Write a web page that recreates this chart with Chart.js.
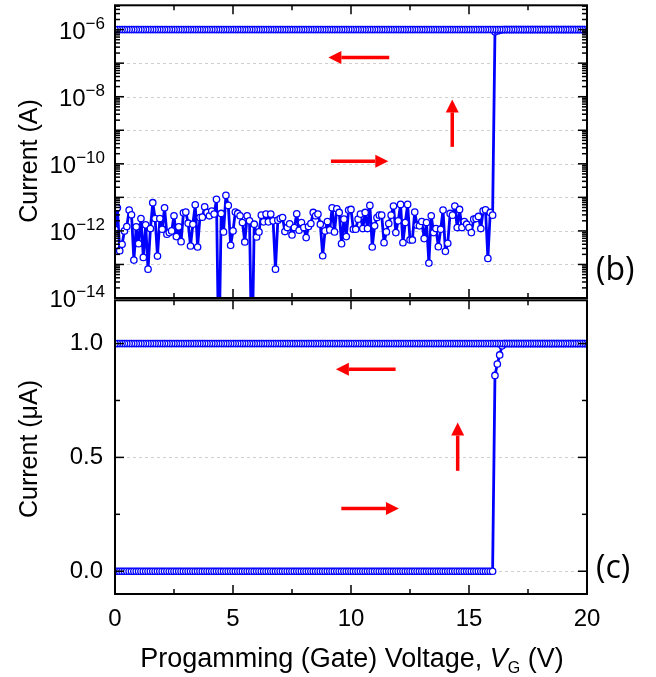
<!DOCTYPE html>
<html lang="en">
<head>
<meta charset="UTF-8">
<title>Programming sweep</title>
<script src="https://cdn.jsdelivr.net/npm/chart.js"></script>
<style>
  body { margin: 0; background: #fff; }
  .janela { position: relative; width: 656px; height: 677px; }
  #graficoLog { position: absolute; left: 0; top: 0; }
  #graficoLin { position: absolute; left: 0; top: 295px; }
</style>
</head>
<body>
<div class="janela">
  <canvas id="graficoLog" width="656" height="320"></canvas>
  <canvas id="graficoLin" width="656" height="382"></canvas>
</div>
<script>
// varredura de tensao (V)
const passo = 0.1;
const vFinal = 20;

// log10 da corrente (A) na ida, de 0.0 a 16.0 V
// -16 = ponto que cai abaixo da escala (4.4 V e 5.8 V)
const expoentesIda = [
  -11.95, -11.31, -12.59, -12.40, -12.00, -11.87, -11.38, -11.52, -12.87, -11.88,
  -12.38, -11.63, -12.79, -11.82, -13.14, -11.93, -11.16, -11.63, -12.75, -11.63,
  -11.95, -11.31, -12.10, -12.05, -12.00, -11.55, -12.17, -11.88, -12.32, -11.46,
  -11.44, -11.77, -12.45, -11.80, -11.22, -12.48, -11.60, -11.59, -11.28, -11.45,
  -11.55, -11.41, -11.50, -11.06, -16.00, -11.48, -12.03, -10.94, -11.24, -12.43,
  -12.00, -11.44, -11.48, -11.55, -11.75, -12.33, -11.55, -11.70, -16.00, -11.80,
  -12.18, -12.03, -11.53, -11.73, -11.50, -11.73, -11.50, -11.70, -13.14, -11.68,
  -11.63, -11.60, -12.02, -11.90, -11.79, -12.12, -11.90, -11.49, -11.98, -11.75,
  -11.90, -12.20, -11.87, -11.78, -11.45, -11.55, -11.50, -11.80, -12.74, -12.00,
  -11.72, -11.97, -11.31, -12.03, -11.34, -11.45, -12.38, -11.65, -12.17, -11.38,
  -11.36, -11.95, -11.95, -11.65, -11.50, -11.93, -11.45, -11.93, -11.24, -12.48,
  -11.85, -11.60, -11.53, -11.53, -12.35, -12.03, -11.78, -11.53, -11.26, -12.05,
  -11.70, -11.21, -12.35, -11.75, -11.21, -12.27, -12.27, -11.44, -11.83, -11.85,
  -11.72, -12.23, -11.75, -12.96, -11.55, -12.05, -11.93, -12.47, -11.95, -11.38,
  -12.61, -12.37, -11.48, -11.53, -11.26, -11.90, -11.36, -11.90, -11.72, -11.80,
  -11.90, -12.05, -11.65, -11.63, -11.57, -11.93, -11.40, -11.37, -12.82, -11.45,
  -11.53
];

// subida para o estado ligado
const voltsTransicao = [16.1, 16.2, 16.3, 16.4];
const correnteTransicao = [0.86e-6, 0.91e-6, 0.95e-6, 0.99e-6];

// corrente de compliance (A): resto da ida e toda a volta 20 -> 0 V
const correnteOn = 1.0e-6;

// eixos
const ticksX = [0, 5, 10, 15, 20];
const ticksXMenor = [2.5, 7.5, 12.5, 17.5];
const decadas = [-14, -13, -12, -11, -10, -9, -8, -7, -6];
const ticksLin = [0, 0.5, 1.0];
const ticksLinMenor = [0.25, 0.75];

// setas [x1, y1, x2, y2] em unidades dos eixos, ponta em (x2, y2)
const setasLog = [[11.62, 1.48e-7, 9.04, 1.48e-7], [9.15, 1.2e-10, 11.58, 1.2e-10], [14.29, 3.2e-10, 14.29, 8.3e-9]];
const setasLin = [[11.89, 0.887, 9.36, 0.887], [9.59, 0.276, 12.03, 0.276], [14.52, 0.441, 14.52, 0.653]];

// montando os pontos
const pontos = [];
expoentesIda.forEach(function (e, i) {
  pontos.push({ x: +(i * passo).toFixed(1), y: Math.pow(10, e) });
});
voltsTransicao.forEach(function (v, i) {
  pontos.push({ x: v, y: correnteTransicao[i] });
});
const nInicio = Math.round(voltsTransicao[voltsTransicao.length - 1] / passo) + 1;
const nFim = Math.round(vFinal / passo);
for (let n = nInicio; n <= nFim; n++) pontos.push({ x: +(n * passo).toFixed(1), y: correnteOn });
for (let n = nFim; n >= 0; n--) pontos.push({ x: +(n * passo).toFixed(1), y: correnteOn });
const pontosUA = pontos.map(function (p) { return { x: p.x, y: p.y * 1e6 }; });

const fonte = '"Liberation Sans", Arial, sans-serif';
Chart.defaults.font.family = fonte;
Chart.defaults.color = '#000';

function serie(dados) {
  return {
    data: dados,
    borderColor: '#0000ff',
    borderWidth: 2.8,
    borderJoinStyle: 'round',
    pointRadius: 3.2,
    pointBorderWidth: 1.3,
    pointBackgroundColor: '#ffffff',
    pointBorderColor: '#0000ff',
    tension: 0
  };
}

function traco(ctx, x1, y1, x2, y2) {
  ctx.beginPath(); ctx.moveTo(x1, y1); ctx.lineTo(x2, y2); ctx.stroke();
}

function seta(ctx, x1, y1, x2, y2) {
  const ang = Math.atan2(y2 - y1, x2 - x1);
  const cab = 13, larg = 6.5;
  const bx = x2 - cab * Math.cos(ang), by = y2 - cab * Math.sin(ang);
  ctx.strokeStyle = '#ff0000'; ctx.fillStyle = '#ff0000'; ctx.lineWidth = 3.5;
  traco(ctx, x1, y1, bx, by);
  ctx.beginPath();
  ctx.moveTo(x2, y2);
  ctx.lineTo(bx + larg * Math.sin(ang), by - larg * Math.cos(ang));
  ctx.lineTo(bx - larg * Math.sin(ang), by + larg * Math.cos(ang));
  ctx.closePath(); ctx.fill();
}

const moldura = {
  id: 'moldura',
  beforeDatasetsDraw(chart, args, o) {
    const { ctx, chartArea: a, scales } = chart;
    ctx.save();
    ctx.strokeStyle = '#cfcfcf'; ctx.lineWidth = 1; ctx.setLineDash([3, 3]);
    o.grade.forEach(function (v) {
      const py = Math.round(scales.y.getPixelForValue(v)) + 0.5;
      traco(ctx, a.left, py, a.right, py);
    });
    ctx.restore();
  },
  afterDraw(chart, args, o) {
    const { ctx, chartArea: a, scales } = chart;
    const sx = scales.x, sy = scales.y;
    ctx.save();
    ctx.strokeStyle = '#000'; ctx.lineWidth = 1.5;
    ticksX.forEach(function (v) {
      const px = sx.getPixelForValue(v);
      traco(ctx, px, a.bottom, px, a.bottom - 9); traco(ctx, px, a.top, px, a.top + 9);
    });
    ticksXMenor.forEach(function (v) {
      const px = sx.getPixelForValue(v);
      traco(ctx, px, a.bottom, px, a.bottom - 5); traco(ctx, px, a.top, px, a.top + 5);
    });
    o.yMaior.forEach(function (v) {
      const py = sy.getPixelForValue(v);
      traco(ctx, a.left, py, a.left + 9, py); traco(ctx, a.right, py, a.right - 9, py);
    });
    o.yMenor.forEach(function (v) {
      const py = sy.getPixelForValue(v);
      if (py < a.top || py > a.bottom) return;
      traco(ctx, a.left, py, a.left + 5, py); traco(ctx, a.right, py, a.right - 5, py);
    });
    ctx.lineWidth = 2;
    ctx.strokeRect(a.left, a.top, a.width, a.height);

    // setas
    o.setas.forEach(function (s) {
      seta(ctx, sx.getPixelForValue(s[0]), sy.getPixelForValue(s[1]), sx.getPixelForValue(s[2]), sy.getPixelForValue(s[3]));
    });

    ctx.fillStyle = '#000';
    // rotulos 10^n
    if (o.rotuloLog) {
      decadas.forEach(function (d) {
        if (d % 2 !== 0) return;
        const py = sy.getPixelForValue(Math.pow(10, d));
        const exp = '\u2212' + Math.abs(d);
        ctx.textAlign = 'right'; ctx.textBaseline = 'alphabetic';
        ctx.font = '17px ' + fonte;
        ctx.fillText(exp, 105, py - 1);
        const w = ctx.measureText(exp).width;
        ctx.font = '24px ' + fonte;
        ctx.fillText('10', 105 - w, py + 9);
      });
    }

    // titulo do eixo y
    ctx.save();
    ctx.translate(30, o.tituloY);
    ctx.rotate(-Math.PI / 2);
    ctx.font = '25px ' + fonte;
    ctx.textAlign = 'center'; ctx.textBaseline = 'middle';
    ctx.fillText(o.titulo, 0, 0);
    ctx.restore();

    // letra do painel
    ctx.font = '32px "Open Sans", sans-serif';
    ctx.textAlign = 'left'; ctx.textBaseline = 'middle';
    ctx.fillText(o.painel, 596, o.painelY);

    // titulo do eixo x
    if (o.tituloX) {
      const partes = [
        { t: 'Progamming (Gate) Voltage, ', f: '27px ' + fonte, dy: 0 },
        { t: 'V', f: 'italic 27px ' + fonte, dy: 0 },
        { t: 'G', f: '16px ' + fonte, dy: 6 },
        { t: ' (V)', f: '27px ' + fonte, dy: 0 }
      ];
      let total = 0;
      partes.forEach(function (p) { ctx.font = p.f; p.w = ctx.measureText(p.t).width; total += p.w; });
      let cx = 352 - total / 2;
      ctx.textAlign = 'left'; ctx.textBaseline = 'alphabetic';
      partes.forEach(function (p) { ctx.font = p.f; ctx.fillText(p.t, cx, 372 + p.dy); cx += p.w; });
    }
    ctx.restore();
  }
};

const menoresLog = [];
decadas.concat([-5]).forEach(function (d) {
  for (let k = 2; k <= 9; k++) menoresLog.push(k * Math.pow(10, d));
});

// painel (b) - escala log
new Chart(document.getElementById('graficoLog'), {
  type: 'line',
  data: { datasets: [serie(pontos)] },
  options: {
    responsive: false,
    animation: false,
    layout: { padding: { left: 0, right: 69, top: 5, bottom: 22 } },
    plugins: {
      legend: { display: false },
      tooltip: { enabled: false },
      moldura: {
        grade: decadas.map(function (d) { return Math.pow(10, d); }),
        yMaior: decadas.map(function (d) { return Math.pow(10, d); }),
        yMenor: menoresLog,
        setas: setasLog,
        rotuloLog: true,
        titulo: 'Current (A)',
        tituloY: 161,
        painel: '(b)',
        painelY: 271
      }
    },
    scales: {
      x: { type: 'linear', min: 0, max: vFinal, display: false },
      y: {
        type: 'logarithmic', min: 1e-14, max: 5.3e-6,
        grid: { display: false }, border: { display: false },
        ticks: { display: false },
        afterFit: function (s) { s.width = 115; s.paddingTop = 0; s.paddingBottom = 0; }
      }
    }
  },
  plugins: [moldura]
});

// painel (c) - escala linear em uA
new Chart(document.getElementById('graficoLin'), {
  type: 'line',
  data: { datasets: [serie(pontosUA)] },
  options: {
    responsive: false,
    animation: false,
    layout: { padding: { left: 0, right: 69, top: 5, bottom: 0 } },
    plugins: {
      legend: { display: false },
      tooltip: { enabled: false },
      moldura: {
        grade: ticksLin,
        yMaior: ticksLin,
        yMenor: ticksLinMenor,
        setas: setasLin,
        rotuloLog: false,
        titulo: 'Current (\u03bcA)',
        tituloY: 154,
        painel: '(c)',
        painelY: 274,
        tituloX: true
      }
    },
    scales: {
      x: {
        type: 'linear', min: 0, max: vFinal,
        grid: { display: false, drawTicks: false }, border: { display: false },
        ticks: { font: { size: 24 }, padding: 11, maxRotation: 0 },
        afterBuildTicks: function (s) { s.ticks = ticksX.map(function (v) { return { value: v }; }); },
        afterFit: function (s) { s.height = 83; s.paddingLeft = 0; s.paddingRight = 0; }
      },
      y: {
        type: 'linear', min: -0.1, max: 1.19,
        grid: { display: false, drawTicks: false }, border: { display: false },
        ticks: { font: { size: 24 }, padding: 12, callback: function (v) { return v.toFixed(1); } },
        afterBuildTicks: function (s) { s.ticks = ticksLin.map(function (v) { return { value: v }; }); },
        afterFit: function (s) { s.height = s.height; s.width = 115; s.paddingTop = 0; s.paddingBottom = 0; }
      }
    }
  },
  plugins: [moldura]
});
</script>
</body>
</html>
